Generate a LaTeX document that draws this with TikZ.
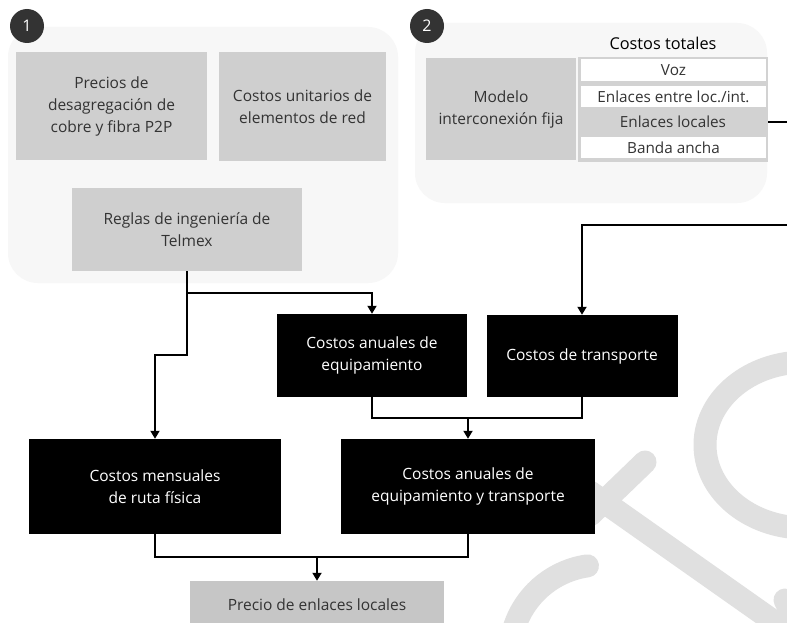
\documentclass[tikz,border=0pt]{standalone}
\usepackage{fontspec}
\setmainfont{Open Sans}
\usetikzlibrary{arrows.meta}
\definecolor{boxgray}{HTML}{CFCFCF}
\definecolor{pricegray}{HTML}{C6C6C6}
\definecolor{grpbg}{HTML}{F7F7F7}
\definecolor{wmgray}{HTML}{E0E0E0}
\definecolor{txtgray}{HTML}{333333}
\definecolor{badge}{HTML}{333333}
\definecolor{tblframe}{HTML}{D2D2D2}
\begin{document}
\begin{tikzpicture}[x=1pt,y=-1pt,
  graybox/.style={fill=boxgray, draw=none, inner sep=0pt, align=center, text=txtgray,
    font=\fontsize{15.5}{22}\selectfont},
  blackbox/.style={fill=black, draw=none, inner sep=0pt, align=center, text=white,
    font=\fontsize{15.5}{22}\selectfont},
  rowbox/.style={fill=white, draw=none, inner sep=0pt, align=center, text=txtgray,
    minimum width=185pt, font=\fontsize{15.3}{18}\selectfont},
  badgenode/.style={circle, fill=badge, text=white, minimum size=34pt, inner sep=0pt,
    font=\fontsize{16}{18}\selectfont},
  grp/.style={fill=grpbg, rounded corners=30pt},
  wm/.style={draw=wmgray, line width=23pt, line cap=round},
  conn/.style={draw=black, line width=1.8pt},
  arr/.style={conn, -{Triangle[width=9pt,length=8pt]}}
]
\clip (0,0) rectangle (787,623);
\fill[white] (0,0) rectangle (787,623);

% watermark
\draw[wm] (805,445) ++(-95:100 and 83) arc[start angle=-95, end angle=-265, x radius=100, y radius=83];
\draw[wm] (600,655) ++(-98:90) arc[start angle=-98, end angle=-200, radius=90];
\draw[wm] (645,462) -- (590,515);
\draw[wm] (590,492) -- (800,640);
\draw[wm] (785,600) -- (800,630);

% group backgrounds
\fill[grp] (8,27) rectangle (398,283);
\fill[grp] (415,23) rectangle (767,203);

% badges
\node[badgenode] (b1) at (27,26) {1};
\node[badgenode] (b2) at (427,26) {2};

% group 1
\node[graybox, minimum width=191pt, minimum height=108pt] (prec) at (111.5,106)
  {Precios de\\desagregación de\\cobre y fibra P2P};
\node[graybox, minimum width=167pt, minimum height=109pt] (unit) at (302.5,106.5)
  {Costos unitarios de\\elementos de red};
\node[graybox, minimum width=230pt, minimum height=83pt] (reg) at (187,229.5)
  {Reglas de ingeniería de\\Telmex};

% group 2
\node[text=black, font=\fontsize{16.3}{18}\selectfont, inner sep=0pt] (tot) at (663,43) {Costos totales};
\node[graybox, minimum width=150pt, minimum height=102pt] (mod) at (501,109)
  {Modelo\\interconexión fija};
\node[fill=tblframe, minimum width=190pt, minimum height=105pt, inner sep=0pt] (tbl) at (673,109.5) {};
\node[rowbox, minimum height=22pt] (voz) at (673.5,70) {Voz};
\node[rowbox, minimum height=21pt] (ent) at (673.5,96.5) {Enlaces entre loc./int.};
\node[rowbox, fill=none, minimum width=190pt, minimum height=24pt] (loc) at (673,122) {Enlaces locales};
\node[rowbox, minimum height=21pt] (ban) at (673.5,147.5) {Banda ancha};

% black boxes
\node[blackbox, minimum width=190pt, minimum height=83pt] (eq) at (372,355.5)
  {Costos anuales de\\equipamiento};
\node[blackbox, minimum width=191pt, minimum height=82pt] (tr) at (582,356)
  {Costos de transporte};
\node[blackbox, minimum width=252pt, minimum height=95pt] (mens) at (155,486.5)
  {Costos mensuales\\de ruta física};
\node[blackbox, minimum width=254pt, minimum height=95pt] (eqtr) at (468,486.5)
  {Costos anuales de\\equipamiento y transporte};
\node[fill=pricegray, inner sep=0pt, text=txtgray, font=\fontsize{15.5}{22}\selectfont,
  minimum width=254pt, minimum height=48pt] (pre) at (317,605) {Precio de enlaces locales};

% connectors
\coordinate (j1) at (187,293);
\coordinate (j2) at (187,355);
\coordinate (m1) at (468,418);
\coordinate (m2) at (317,557);
\coordinate (e1) at (800,122);
\coordinate (e2) at (800,225);

\draw[arr] (reg.south) -- (j2) -| (mens.north);
\draw[arr] (j1) -| (eq.north);
\draw[conn] (eq.south) |- (m1) -| (tr.south);
\draw[arr] (m1) -- (eqtr.north);
\draw[conn] (mens.south) |- (m2) -| (eqtr.south);
\draw[arr] (m2) -- (pre.north);
\draw[arr] (loc.east) -- (e1) -- (e2) -| (tr.north);
\end{tikzpicture}
\end{document}
